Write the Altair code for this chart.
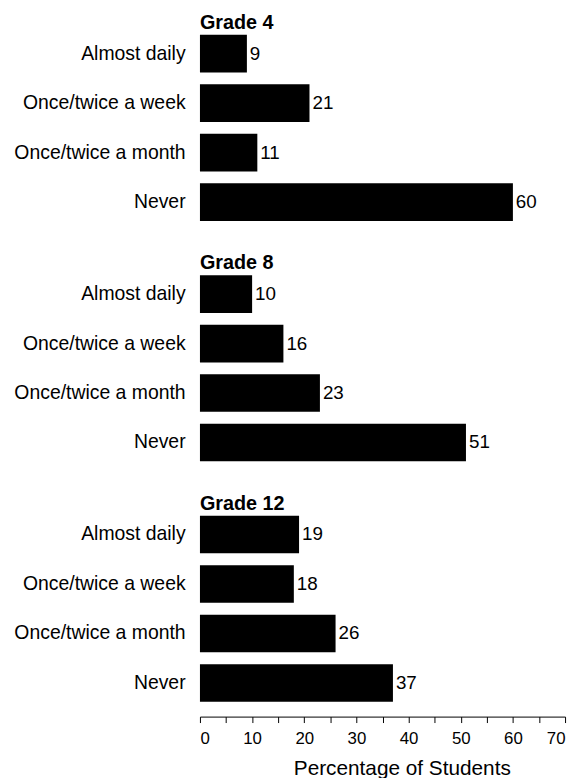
import altair as alt
import pandas as pd

grades = ["Grade 4", "Grade 8", "Grade 12"]
frequencies = ["Almost daily", "Once/twice a week", "Once/twice a month", "Never"]
grade4 = [9, 21, 11, 60]
grade8 = [10, 16, 23, 51]
grade12 = [19, 18, 26, 37]
x_ticks = [0, 5, 10, 15, 20, 25, 30, 35, 40, 45, 50, 55, 60, 65, 70]

series = [grade4, grade8, grade12]
FONT = "Liberation Sans"


def panel(grade, values, last):
    df = pd.DataFrame({"freq": frequencies, "pct": values})
    if last:
        xaxis = alt.Axis(
            values=x_ticks,
            labelExpr="datum.value % 10 == 0 ? datum.label : ''",
            title="Percentage of Students",
            titleFontSize=21,
            titleFontWeight="normal",
            titleFont=FONT,
            titleColor="black",
            titlePadding=12,
            titleX=204,
            titleAlign="center",
            labelFont=FONT,
            labelFontSize=17,
            labelColor="black",
            labelPadding=8,
            tickColor="black",
            tickSize=6,
            domainColor="black",
            grid=False,
            offset=9,
        )
    else:
        xaxis = None
    x = alt.X("pct:Q", scale=alt.Scale(domain=[0, 70], nice=False), axis=xaxis)
    y = alt.Y(
        "freq:N",
        sort=frequencies,
        scale=alt.Scale(paddingInner=0.24, paddingOuter=0.12),
        axis=alt.Axis(
            title=None,
            ticks=False,
            domain=False,
            labelFont=FONT,
            labelFontSize=19.6,
            labelColor="black",
            labelPadding=15,
        ),
    )
    base = alt.Chart(df)
    bars = base.mark_bar(color="black").encode(x=x, y=y)
    text = base.mark_text(
        align="left", baseline="middle", dx=3, font=FONT, fontSize=19, color="black"
    ).encode(x=x, y=y, text="pct:Q")
    return (bars + text).properties(
        width=369,
        height=200,
        title=alt.TitleParams(
            grade,
            anchor="start",
            frame="group",
            font=FONT,
            fontSize=20,
            fontWeight="bold",
            color="black",
            offset=-4,
        ),
    )


panels = [panel(g, v, i == 2) for i, (g, v) in enumerate(zip(grades, series))]
chart = (
    alt.vconcat(*panels, spacing=27)
    .properties(padding={"top": 1, "left": 5, "right": 5, "bottom": 5})
    .configure_view(stroke=None)
)

chart.save("out.html", embed_options={"renderer": "svg", "actions": False})
